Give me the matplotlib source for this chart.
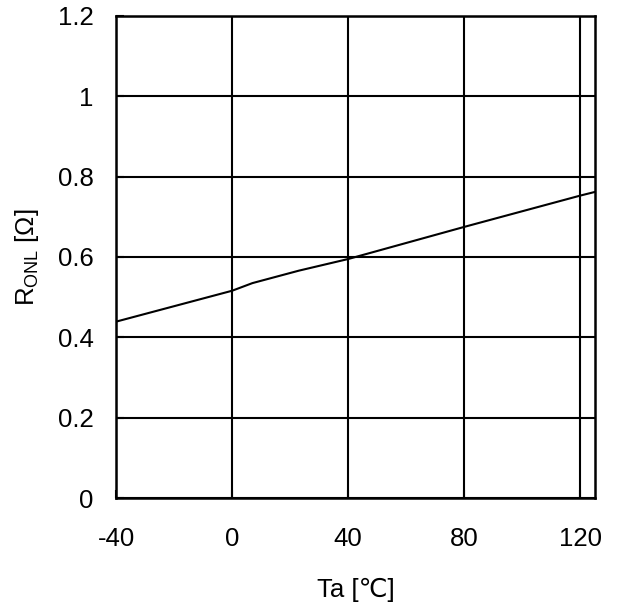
import numpy as np
import matplotlib.pyplot as plt

temp = [-40, 0, 7, 23, 40, 80, 120, 125]
ronl = [0.439, 0.516, 0.535, 0.566, 0.595, 0.675, 0.753, 0.762]
xticks = [-40, 0, 40, 80, 120]
yticks = [0, 0.2, 0.4, 0.6, 0.8, 1.0, 1.2]
ylabels = ['0', '0.2', '0.4', '0.6', '0.8', '1', '1.2']

plt.rcParams['font.family'] = ['Liberation Sans', 'DejaVu Sans']
plt.rcParams['mathtext.fontset'] = 'custom'
plt.rcParams['mathtext.rm'] = 'Liberation Sans'
plt.rcParams['axes.unicode_minus'] = False

fig = plt.figure(figsize=(6.19, 6.10), dpi=100)
ax = fig.add_axes([0.1874, 0.1836, 0.7738, 0.7902])
ax.plot(temp, ronl, color='black', lw=1.5)
ax.set_xlim(-40, 125)
ax.set_ylim(0, 1.2)
ax.set_xticks(xticks)
ax.set_yticks(yticks)
ax.set_yticklabels(ylabels)
ax.grid(True, color='black', lw=1.5)
for s in ax.spines.values():
	s.set_linewidth(1.8)
ax.tick_params(direction='in', length=6, width=1.5, labelsize=18.5)
ax.tick_params(axis='x', pad=21)
ax.tick_params(axis='y', pad=16)
ax.set_xlabel('Ta [℃]', fontsize=18.5, labelpad=19)
ax.set_ylabel(r'R$_{\mathregular{ONL}}$ [Ω]', fontsize=18.5, labelpad=12)
fig.savefig('out.png', dpi=100)
